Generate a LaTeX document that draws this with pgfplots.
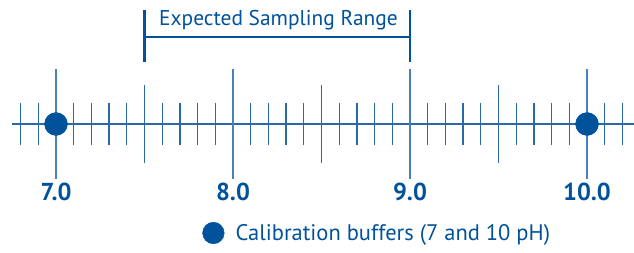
\documentclass[border=0pt]{standalone}
\usepackage{fontspec}
\setmainfont{PT Sans}
\usepackage{pgfplots}
\pgfplotsset{compat=1.18}
\definecolor{lineblue}{HTML}{2A68A6}
\definecolor{majblue}{HTML}{4A80B6}
\definecolor{dotblue}{HTML}{00529B}
\begin{document}
\begin{tikzpicture}
\begin{axis}[
  scale only axis, x=177pt, y=1pt,
  xmin=6.6836, xmax=10.2655, ymin=-128, ymax=124,
  hide axis, clip=false,
  legend style={at={(axis cs:7.825,-109)}, anchor=west, draw=none, fill=none,
    font=\fontsize{22.5}{26}\selectfont, text=dotblue, inner sep=0pt,
    column sep=11pt, nodes={inner sep=0pt}},
  legend cell align=left,
  legend image code/.code={\path (0pt,0pt) rectangle (22pt,0pt); \fill[dotblue] (11pt,0pt) circle (10.8pt);},
]
% number line
\addplot[lineblue, line width=1.3pt, forget plot] coordinates {(6.752,0) (10.2655,0)};
% minor ticks (every 0.1)
\addplot[lineblue, line width=1.3pt, ycomb, no marks, forget plot] coordinates {
 (6.8,21) (6.9,21) (7.1,21) (7.2,21) (7.3,21) (7.4,21) (7.6,21) (7.7,21) (7.8,21) (7.9,21)
 (8.1,21) (8.2,21) (8.3,21) (8.4,21) (8.6,21) (8.7,21) (8.8,21) (8.9,21)
 (9.1,21) (9.2,21) (9.3,21) (9.4,21) (9.6,21) (9.7,21) (9.8,21) (9.9,21) (10.1,21) (10.2,21)};
\addplot[lineblue, line width=1.3pt, ycomb, no marks, forget plot] coordinates {
 (6.8,-21) (6.9,-21) (7.1,-21) (7.2,-21) (7.3,-21) (7.4,-21) (7.6,-21) (7.7,-21) (7.8,-21) (7.9,-21)
 (8.1,-21) (8.2,-21) (8.3,-21) (8.4,-21) (8.6,-21) (8.7,-21) (8.8,-21) (8.9,-21)
 (9.1,-21) (9.2,-21) (9.3,-21) (9.4,-21) (9.6,-21) (9.7,-21) (9.8,-21) (9.9,-21) (10.1,-21) (10.2,-21)};
% half-unit ticks
\addplot[lineblue, line width=1.4pt, ycomb, no marks, forget plot] coordinates {(7.5,39) (8.5,39) (9.5,39)};
\addplot[lineblue, line width=1.4pt, ycomb, no marks, forget plot] coordinates {(7.5,-39) (8.5,-39) (9.5,-39)};
% unit ticks
\addplot[majblue, line width=1.2pt, ycomb, no marks, forget plot] coordinates {(7,55) (8,55) (9,55) (10,55)};
\addplot[majblue, line width=1.2pt, ycomb, no marks, forget plot] coordinates {(7,-55) (8,-55) (9,-55) (10,-55)};
% bracket
\addplot[dotblue, line width=2.7pt, forget plot] coordinates {(7.5,114) (7.5,62)};
\addplot[dotblue, line width=2.7pt, forget plot] coordinates {(9,114) (9,62)};
\addplot[dotblue, line width=2.7pt, forget plot] coordinates {(7.5,87) (9,87)};
% calibration buffers
\addplot[only marks, mark=*, mark size=11.5pt, draw=dotblue, fill=dotblue] coordinates {(7,0) (10,0)};
\addlegendentry{Calibration buffers (7 and 10 pH)}
\node[anchor=base, text=dotblue, font=\fontsize{21.4}{25}\selectfont] at (axis cs:8.257,98) {Expected Sampling Range};
\node[anchor=base, text=dotblue, font=\bfseries\fontsize{24.5}{28}\selectfont] at (axis cs:7,-76) {7.0};
\node[anchor=base, text=dotblue, font=\bfseries\fontsize{24.5}{28}\selectfont] at (axis cs:8,-76) {8.0};
\node[anchor=base, text=dotblue, font=\bfseries\fontsize{24.5}{28}\selectfont] at (axis cs:9,-76) {9.0};
\node[anchor=base, text=dotblue, font=\bfseries\fontsize{24.5}{28}\selectfont] at (axis cs:10,-76) {10.0};
\end{axis}
\pgfresetboundingbox
\path[use as bounding box] (current axis.south west) rectangle (current axis.north east);
\end{tikzpicture}
\end{document}
